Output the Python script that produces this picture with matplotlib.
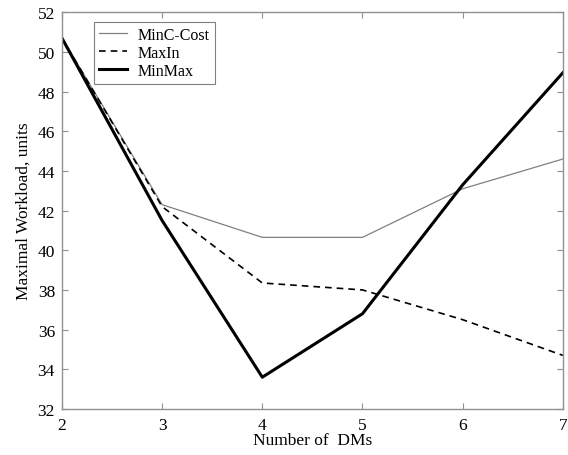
import matplotlib
matplotlib.use("Agg")
import matplotlib.pyplot as plt

dms = [2, 3, 4, 5, 6, 7]
minc_cost = [50.7, 42.3, 40.65, 40.65, 43.1, 44.6]
maxin = [50.7, 42.2, 38.35, 38.0, 36.5, 34.7]
minmax = [50.7, 41.5, 33.6, 36.8, 43.3, 48.95]

plt.rcParams['font.family'] = ['Liberation Serif', 'DejaVu Serif']
fig = plt.figure(figsize=(5.68, 4.56), dpi=100)
ax = fig.add_axes([0.109, 0.101, 0.882, 0.870])

ax.plot(dms, minc_cost, color='#808080', lw=0.9, label='MinC-Cost')
ax.plot(dms, maxin, color='black', lw=1.2, ls=(0, (4, 3)), label='MaxIn')
ax.plot(dms, minmax, color='black', lw=2.2, label='MinMax')

ax.set_xlim(2, 7)
ax.set_ylim(32, 52)
ax.set_xticks(dms)
ax.set_yticks(range(32, 53, 2))
ax.tick_params(direction='in', top=True, right=True, color='#909090', length=4,
               labelsize=12.5, width=0.8)
ax.tick_params(axis='x', pad=6)
ax.tick_params(axis='y', pad=5)
for s in ax.spines.values():
    s.set_color('#909090')
    s.set_linewidth(1.0)
ax.set_xlabel('Number of  DMs', fontsize=12.5, labelpad=-1)
ax.set_ylabel('Maximal Workload, units', fontsize=12.5, labelpad=4)

leg = ax.legend(loc='upper left', bbox_to_anchor=(0.064, 0.975), fontsize=11.5,
                fancybox=False, framealpha=1, edgecolor='#808080',
                handlelength=1.75, handletextpad=0.7, borderpad=0.3,
                labelspacing=0.12, borderaxespad=0)
leg.get_frame().set_linewidth(0.8)

fig.savefig('out.png', dpi=100)
